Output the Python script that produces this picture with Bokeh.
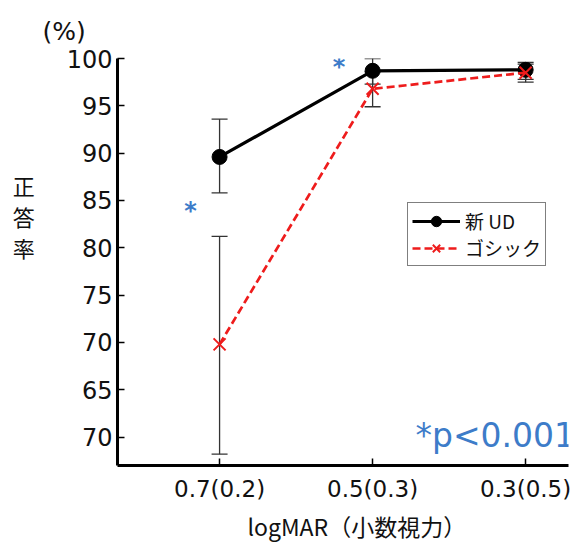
from bokeh.plotting import figure
from bokeh.models import (ColumnDataSource, Whisker, TeeHead, Label, Legend, LegendItem,
                          FixedTicker, Range1d, Title)
from bokeh.embed import file_html
from bokeh.resources import INLINE

# ---- data ----
categories = ["0.7(0.2)", "0.5(0.3)", "0.3(0.5)"]
x_pos = [1, 2, 3]
ud_mean = [89.6, 98.7, 98.8]
ud_lower = [85.8, 97.3, 97.8]
ud_upper = [93.6, 100.0, 99.6]
goth_mean = [69.8, 96.8, 98.5]
goth_lower = [58.2, 94.9, 97.5]
goth_upper = [81.2, 98.6, 99.4]
y_ticks = [60, 65, 70, 75, 80, 85, 90, 95, 100]
y_tick_labels = ["70", "65", "70", "75", "80", "85", "90", "95", "100"]
star_x = [0.81, 1.78]
star_y = [83.85, 99.15]

FONT = "Noto Sans CJK JP"
NUM = "DejaVu Sans"
BLUE = "#3d7cc9"
TXT = "#111111"

p = figure(width=576, height=544, output_backend="svg", toolbar_location=None,
           x_range=Range1d(0.333, 3.28), y_range=Range1d(57.0, 100.0),
           min_border_left=117, min_border_top=58, min_border_right=8, min_border_bottom=79)
p.outline_line_color = None
p.grid.visible = False
p.background_fill_color = "white"

for ax in (p.xaxis[0], p.yaxis[0]):
    ax.axis_line_width = 3
    ax.axis_line_color = "black"
    ax.major_tick_in = 7
    ax.major_tick_out = 0
    ax.major_tick_line_width = 1.5
    ax.minor_tick_line_color = None
    ax.major_label_text_font = NUM
    ax.major_label_text_color = TXT

p.xaxis.ticker = FixedTicker(ticks=x_pos)
p.xaxis.major_label_overrides = {x: c for x, c in zip(x_pos, categories)}
p.xaxis.major_label_text_font_size = "23px"
p.xaxis.major_label_standoff = 10

p.yaxis.ticker = FixedTicker(ticks=y_ticks)
p.yaxis.major_label_overrides = {t: l for t, l in zip(y_ticks, y_tick_labels)}
p.yaxis.major_label_text_font_size = "24px"
p.yaxis.major_label_standoff = 5

# vertical, upright y-axis label
p.yaxis.axis_label = "正\n答\n率\n\u3000\n\u3000\n\u3000"
p.yaxis.axis_label_orientation = "horizontal"
p.yaxis.axis_label_text_font = FONT
p.yaxis.axis_label_text_font_style = "normal"
p.yaxis.axis_label_text_font_size = "22px"
p.yaxis.axis_label_text_line_height = 0.96
p.yaxis.axis_label_text_color = TXT
p.yaxis.axis_label_standoff = 29

src_ud = ColumnDataSource(dict(x=x_pos, y=ud_mean, lo=ud_lower, hi=ud_upper))
src_g = ColumnDataSource(dict(x=x_pos, y=goth_mean, lo=goth_lower, hi=goth_upper))

l1 = p.line("x", "y", source=src_ud, line_color="black", line_width=3.2)
c1 = p.scatter("x", "y", source=src_ud, marker="circle", size=15, fill_color="black", line_color="black")
l2 = p.line("x", "y", source=src_g, line_color="#ee1c1c", line_width=2.7, line_dash="8 4")
c2 = p.scatter("x", "y", source=src_g, marker="x", size=17, line_color="#ee1c1c", line_width=2)

for src in (src_ud, src_g):
    w = Whisker(base="x", lower="lo", upper="hi", source=src, line_color="#333333", line_width=1.3,
                upper_head=TeeHead(size=16, line_color="#333333", line_width=1.3),
                lower_head=TeeHead(size=16, line_color="#333333", line_width=1.3))
    p.add_layout(w)

legend = Legend(items=[LegendItem(label="新 UD", renderers=[l1, c1]),
                       LegendItem(label="ゴシック", renderers=[l2, c2])],
                location=(290, 199))
legend.label_text_font = FONT
legend.label_text_font_size = "19px"
legend.label_text_color = TXT
legend.border_line_color = "black"
legend.border_line_width = 1
legend.glyph_width = 48
legend.glyph_height = 26
legend.label_height = 26
legend.padding = 4
legend.spacing = 0
legend.margin = 0
p.add_layout(legend)

for sx, sy in zip(star_x, star_y):
    p.add_layout(Label(x=sx, y=sy, text="*", text_color=BLUE, text_font=NUM, text_font_size="24px",
                       text_font_style="bold", text_align="center", text_baseline="alphabetic"))

p.add_layout(Label(x=2.28, y=60.2, text="*p<0.001", text_color=BLUE, text_font=NUM,
                   text_font_size="33px", text_align="left", text_baseline="alphabetic"))

# x-axis title and "(%)" as titles outside the frame
p.add_layout(Title(text="logMAR（小数視力）", align="left", offset=130, standoff=4,
                   text_font=FONT, text_font_size="23px", text_font_style="normal",
                   text_color=TXT), "below")
p.add_layout(Title(text="(%)", align="left", offset=-75, standoff=26,
                   text_font=NUM, text_font_size="25px", text_font_style="normal",
                   text_color=TXT), "above")

open("out.html", "w").write(file_html(p, INLINE))
